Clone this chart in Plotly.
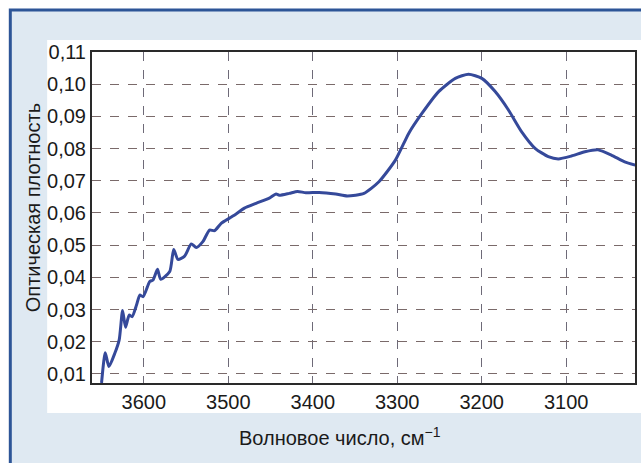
import plotly.graph_objects as go

wavenumber = [3650, 3645.6, 3641.3, 3634.2, 3629.1, 3625.1, 3621.6, 3617.3, 3613.8, 3608.6,
              3604.7, 3600.8, 3592.9, 3589.0, 3583.8, 3580.0, 3569.3, 3564.6, 3559.6, 3551.7,
              3543.8, 3537.9, 3530.1, 3522.2, 3516.3, 3508.4, 3498.6, 3490.7, 3480.9, 3467.1,
              3451.4, 3443.5, 3439.6, 3427.8, 3418.0, 3408.1, 3392.5, 3372.8, 3359.1, 3339.4,
              3321.7, 3302.0, 3286.3, 3270.6, 3251.0, 3231.3, 3215.6, 3199.9, 3184.1, 3168.4,
              3152.7, 3136.9, 3121.2, 3109.4, 3093.7, 3077.9, 3062.3, 3046.6, 3030.8, 3018.3]
absorbance = [0.0072, 0.0166, 0.0123, 0.0165, 0.0206, 0.0297, 0.0245, 0.0283, 0.0278, 0.0314,
              0.0345, 0.0340, 0.0387, 0.0392, 0.0425, 0.0394, 0.0418, 0.0487, 0.0456, 0.0466,
              0.0504, 0.0493, 0.0511, 0.0547, 0.0545, 0.0568, 0.0584, 0.0597, 0.0615, 0.0630,
              0.0646, 0.0659, 0.0655, 0.0661, 0.0667, 0.0663, 0.0664, 0.0659, 0.0653, 0.0661,
              0.0697, 0.0765, 0.0848, 0.0910, 0.0977, 0.1018, 0.1031, 0.1018, 0.0977, 0.0920,
              0.0852, 0.0801, 0.0775, 0.0768, 0.0777, 0.0790, 0.0796, 0.0780, 0.0759, 0.0749]

x_tick_vals = [3600, 3500, 3400, 3300, 3200, 3100]
x_tick_text = ["3600", "3500", "3400", "3300", "3200", "3100"]
y_tick_vals = [0.01, 0.02, 0.03, 0.04, 0.05, 0.06, 0.07, 0.08, 0.09, 0.10, 0.11]
y_tick_text = ["0,01", "0,02", "0,03", "0,04", "0,05", "0,06", "0,07", "0,08", "0,09", "0,10", "0,11"]

x_title = "Волновое число, см<sup>−1</sup>"
y_title = "Оптическая плотность"

FONT = "Liberation Sans Narrow, Arial Narrow, Liberation Sans, sans-serif"

fig = go.Figure()
fig.add_trace(go.Scatter(
    x=wavenumber, y=absorbance, mode="lines",
    line=dict(color="#35499a", width=3, shape="spline", smoothing=0.6),
    hoverinfo="skip", showlegend=False,
))

W, H = 641, 463
L, R, T, B = 92, 4, 52, 80
pw, ph = W - L - R, H - T - B

def px(x):
    return (x - L) / pw

def py(y):
    return (H - B - y) / ph

shapes = [
    dict(type="rect", xref="paper", yref="paper", layer="below",
         x0=px(10), x1=px(W + 20), y0=py(H + 20), y1=py(10),
         fillcolor="#dfe9f2", line=dict(color="#2d5597", width=3)),
    dict(type="rect", xref="paper", yref="paper", layer="below",
         x0=px(47), x1=px(W + 10), y0=py(413), y1=py(40),
         fillcolor="#ffffff", line=dict(width=0)),
]

annotations = [
    dict(text=x_title, xref="paper", yref="paper", x=px(341), y=py(436),
         xanchor="center", yanchor="middle", showarrow=False,
         font=dict(family=FONT, size=20, color="#1a1a1a")),
    dict(text=y_title, xref="paper", yref="paper", x=px(33), y=py(208),
         xanchor="center", yanchor="middle", showarrow=False, textangle=-90,
         font=dict(family=FONT, size=20, color="#1a1a1a")),
]

fig.update_layout(
    width=W, height=H,
    margin=dict(l=L, r=R, t=T, b=B, pad=0),
    paper_bgcolor="#ffffff",
    plot_bgcolor="#ffffff",
    shapes=shapes,
    annotations=annotations,
    font=dict(family=FONT, size=20, color="#1a1a1a"),
    xaxis=dict(
        range=[3661.3, 3018.6], tickmode="array", tickvals=x_tick_vals, ticktext=x_tick_text,
        showgrid=True, gridcolor="#6e6a78", griddash="dash", gridwidth=1,
        showline=True, linecolor="#2a2a2a", linewidth=2, mirror=True,
        ticks="", zeroline=False, tickfont=dict(family=FONT, size=20),
    ),
    yaxis=dict(
        range=[0.0072, 0.11], tickmode="array", tickvals=y_tick_vals, ticktext=y_tick_text,
        showgrid=True, gridcolor="#7a6a6a", griddash="dash", gridwidth=1,
        showline=True, linecolor="#2a2a2a", linewidth=2, mirror=True,
        ticks="", zeroline=False, tickfont=dict(family=FONT, size=20),
    ),
)

fig.write_html(
    "out.html",
    config={"displayModeBar": False},
    post_script="document.body.style.margin='0';document.body.style.padding='0';"
                "document.documentElement.style.overflow='hidden';",
)
